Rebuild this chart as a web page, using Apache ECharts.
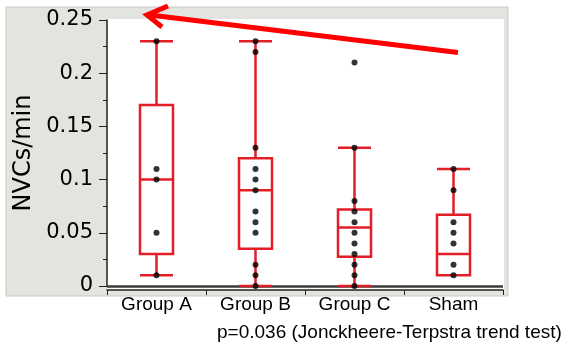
<!DOCTYPE html>
<html>
<head>
<meta charset="utf-8">
<script src="https://cdn.jsdelivr.net/npm/echarts@6/dist/echarts.min.js"></script>
<style>
  html, body { margin: 0; padding: 0; background: #fff; }
  #chart { width: 580px; height: 347px; }
</style>
</head>
<body>
<div id="chart"></div>
<script>
  // groups on the x axis
  var categories = ['Group A', 'Group B', 'Group C', 'Sham']

  // box stats per group: [whisker low, Q1, median, Q3, whisker high]
  var boxA = [0.01, 0.03, 0.10, 0.17, 0.23]
  var boxB = [0, 0.035, 0.09, 0.12, 0.23]
  var boxC = [0, 0.0275, 0.055, 0.072, 0.13]
  var boxSham = [0.01, 0.01, 0.03, 0.067, 0.11]

  // individual observations
  var ptsA = [0.23, 0.11, 0.10, 0.05, 0.01]
  var ptsB = [0.23, 0.22, 0.13, 0.11, 0.10, 0.09, 0.07, 0.06, 0.05, 0.02, 0.01, 0]
  var ptsC = [0.21, 0.13, 0.08, 0.07, 0.06, 0.05, 0.04, 0.03, 0.02, 0.01, 0]
  var ptsSham = [0.11, 0.09, 0.06, 0.05, 0.04, 0.02, 0.01]

  var yTicks = [0, 0.05, 0.1, 0.15, 0.2, 0.25]
  var note = 'p=0.036 (Jonckheere-Terpstra trend test)'

  var red = '#e41e26'
  var points = []
  ;[ptsA, ptsB, ptsC, ptsSham].forEach(function (arr, i) {
    arr.forEach(function (v) { points.push([i, v]) })
  })

  var chart = echarts.init(document.getElementById('chart'))
  chart.setOption({
    animation: false,
    backgroundColor: '#fff',
    title: {
      text: note,
      left: 212,
      top: 318,
      textStyle: { fontFamily: 'Liberation Sans', fontSize: 19, fontWeight: 'normal', color: '#000' }
    },
    graphic: [
      // grey panel and white plot area behind the chart
      { type: 'rect', z: -10, shape: { x: 6, y: 7, width: 502, height: 289 },
        style: { fill: '#e3e3df', stroke: '#c9c9c5', lineWidth: 1 } },
      { type: 'rect', z: -9, shape: { x: 107, y: 19, width: 397, height: 271 },
        style: { fill: '#fff' } },
      // trend arrow
      { type: 'line', z: 100, shape: { x1: 458, y1: 52.5, x2: 150, y2: 15 },
        style: { stroke: '#ff0000', lineWidth: 5 } },
      { type: 'polyline', z: 100, shape: { points: [[168, 6], [147, 15], [162, 27]] },
        style: { stroke: '#ff0000', lineWidth: 5, fill: null, lineJoin: 'miter' } }
    ],
    grid: { left: 107, right: 77, top: 20, bottom: 61 },
    xAxis: {
      type: 'category',
      data: categories,
      offset: 4,
      axisLine: { show: true, onZero: false, lineStyle: { color: '#222', width: 1.5 } },
      axisTick: { show: true, length: 5, lineStyle: { color: '#222' } },
      axisLabel: { margin: 5, color: '#000', fontFamily: 'Liberation Sans', fontSize: 19 }
    },
    yAxis: {
      type: 'value',
      min: yTicks[0],
      max: yTicks[yTicks.length - 1],
      interval: 0.05,
      name: 'NVCs/min',
      nameLocation: 'middle',
      nameGap: 70,
      nameTextStyle: { fontFamily: 'DejaVu Sans', fontSize: 24, color: '#000' },
      axisLine: { show: true, lineStyle: { color: '#222', width: 1.5 } },
      axisTick: { show: true, length: 8, lineStyle: { color: '#222' } },
      minorTick: { show: true, splitNumber: 2, length: 4, lineStyle: { color: '#222' } },
      splitLine: { show: false },
      axisLabel: { margin: 14, color: '#000', fontFamily: 'DejaVu Sans', fontSize: 21 }
    },
    series: [
      {
        type: 'boxplot',
        data: [boxA, boxB, boxC, boxSham],
        boxWidth: [33, 33],
        itemStyle: { color: '#fff', borderColor: red, borderWidth: 2.5 },
        markLine: {
          z: 1,
          silent: true,
          symbol: 'none',
          label: { show: false },
          lineStyle: { color: '#3a3a3a', width: 2.5, type: 'solid' },
          data: [{ yAxis: 0 }]
        }
      },
      {
        type: 'scatter',
        data: points,
        symbolSize: 6,
        itemStyle: { color: '#000' },
        z: 3
      }
    ]
  })
</script>
</body>
</html>
